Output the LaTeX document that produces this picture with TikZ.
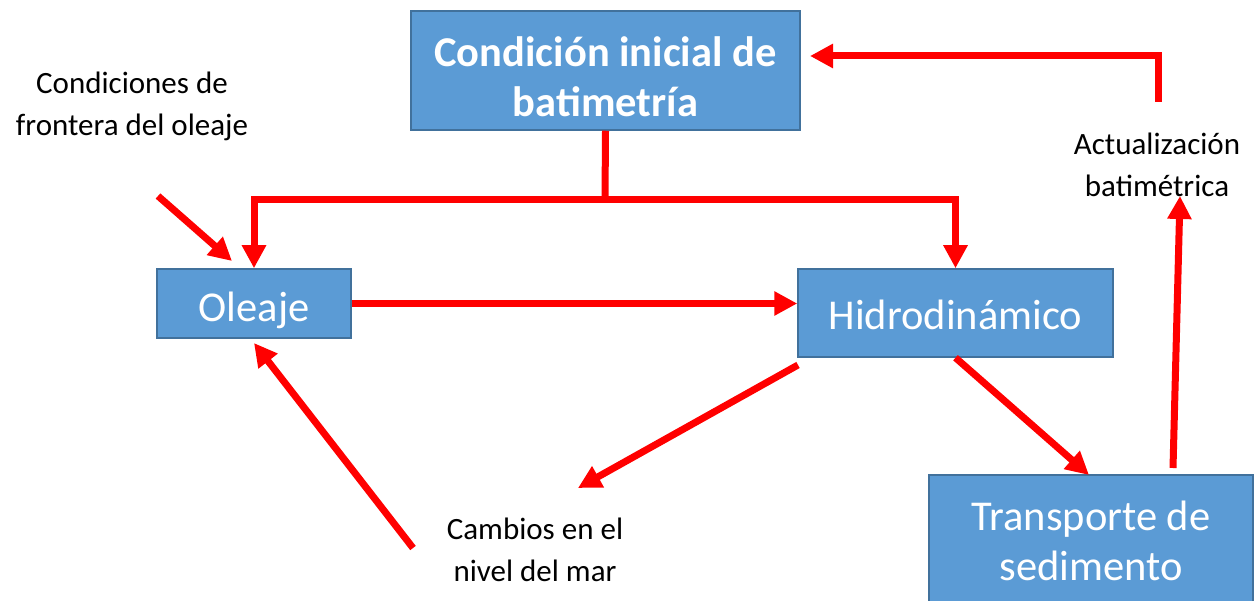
\documentclass[tikz,border=0pt]{standalone}
\usepackage{fontspec}
\setmainfont{Carlito}
\usetikzlibrary{arrows.meta,positioning}

\definecolor{boxfill}{HTML}{5B9BD5}
\definecolor{boxline}{HTML}{41719C}
\definecolor{arrowred}{HTML}{FF0000}

\begin{document}
\begin{tikzpicture}[x=1pt,y=-1pt,
    every node/.style={align=center,font=\fontsize{31}{42}\selectfont},
    box/.style={rectangle,draw=boxline,line width=1.5pt,fill=boxfill,inner sep=0pt},
    boxtext/.style={text=white,inner sep=0pt,font=\fontsize{42.5}{50}\selectfont},
    arrow/.style={-{Triangle[width=23pt,length=23pt]},draw=arrowred,line width=7pt},
    link/.style={draw=arrowred,line width=7pt}
]
\useasboundingbox (0,0) rectangle (1255,601);
\clip (0,0) rectangle (1255,601);

% Model boxes
\node[box,minimum width=389pt,minimum height=119pt,
  label={[boxtext,font=\bfseries\fontsize{42.5}{50}\selectfont,yshift=-6pt]center:{Condición inicial de\\batimetría}}] (inicial) at (605.5,70.5) {};
\node[box,minimum width=194pt,minimum height=69pt,
  label={[boxtext,yshift=-7pt]center:Oleaje}] (oleaje) at (254,303.5) {};
\node[box,minimum width=315pt,minimum height=88pt,
  label={[boxtext,yshift=-2pt]center:Hidrodinámico}] (hidro) at (955.5,313) {};
\node[box,minimum width=324pt,minimum height=140pt,
  label={[boxtext,yshift=4pt]center:{Transporte de\\sedimento}}] (transporte) at (1091,545) {};

% Free labels
\node (frontera) at (132,106) {Condiciones de\\frontera del oleaje};
\node (actualiza) at (1157,165) {Actualización\\batimétrica};
\node (cambios) at (535,550) {Cambios en el\\nivel del mar};

% Free ends
\coordinate (split) at (605,200);
\coordinate (fronteraTail) at (158,196);
\coordinate (fronteraTip) at (232,261);
\coordinate (cambiosTail) at (413,548);
\coordinate (cambiosTip) at (254,343);
\coordinate (hidroOut) at (798,365);
\coordinate (cambiosIn) at (578,488);
\coordinate (transIn) at (1089,475);
\coordinate (transOut) at (1173,468);
\coordinate (actualizaIn) at (1180,196);
\coordinate (actualizaOut) at (1158,102);
\coordinate (inicialIn) at (810,56);

% Connections
\draw[link] (inicial.south) -- (split);
\draw[arrow] (split) -| (oleaje.north);
\draw[arrow] (split) -| (hidro.north);
\draw[arrow] (oleaje.east) -- (oleaje.east -| hidro.west);
\draw[arrow] (fronteraTail) -- (fronteraTip);
\draw[arrow] (cambiosTail) -- (cambiosTip);
\draw[arrow] (hidroOut) -- (cambiosIn);
\draw[arrow] (hidro.south) -- (transIn);
\draw[arrow] (transOut) -- (actualizaIn);
\draw[arrow] (actualizaOut) |- (inicialIn);

\end{tikzpicture}
\end{document}
